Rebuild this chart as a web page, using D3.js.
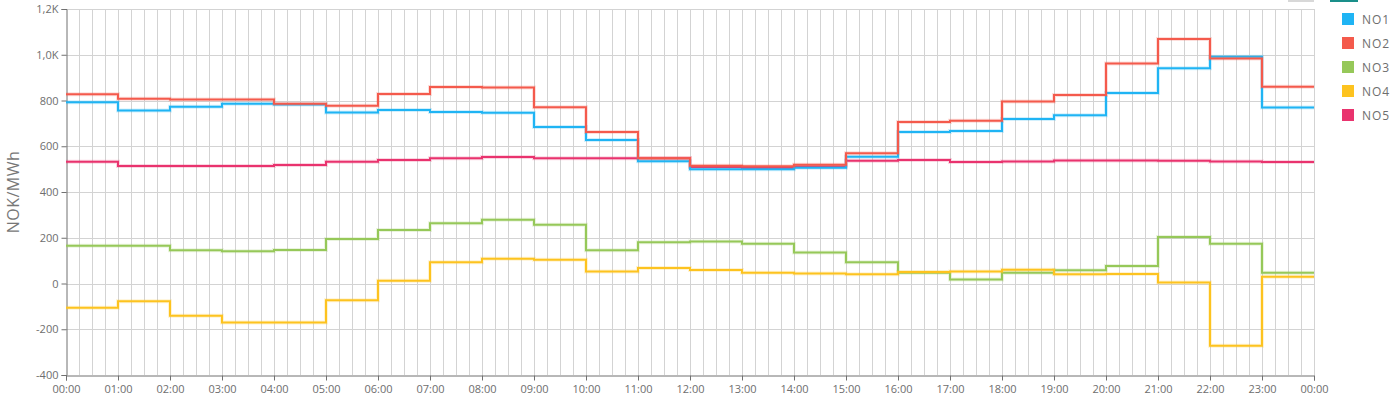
<!DOCTYPE html>
<html><head><meta charset="utf-8">
<script src="https://cdn.jsdelivr.net/npm/d3@7"></script>
<style>
html,body{margin:0;padding:0;background:#fff;}
svg{display:block;font-family:"Open Sans",sans-serif;}
</style></head>
<body><svg id="chart" width="1400" height="400"></svg>
<script>
const hours = d3.range(24);
const tickLabels = ["00:00","01:00","02:00","03:00","04:00","05:00","06:00","07:00","08:00","09:00","10:00","11:00","12:00","13:00","14:00","15:00","16:00","17:00","18:00","19:00","20:00","21:00","22:00","23:00","00:00"];
const yTickValues = [-400,-200,0,200,400,600,800,1000,1200];
const yTickLabels = ["-400","-200","0","200","400","600","800","1,0K","1,2K"];
const seriesNames = ["NO1","NO2","NO3","NO4","NO5"];
const seriesColors = ["#1fb4f4","#f45a4c","#96c859","#fdc31f","#e9336e"];
const NO1 = [792,756,773,786,782,747,758,750,746,684,627,534,499,499,506,554,662,667,719,735,833,941,991,769];
const NO2 = [827,808,804,804,786,777,828,859,857,771,662,547,515,513,519,569,706,712,796,824,962,1069,984,860];
const NO3 = [165,165,145,141,146,195,234,263,279,257,145,180,184,174,135,93,47,17,47,58,77,203,174,47];
const NO4 = [-106,-78,-141,-171,-170,-73,12,93,108,104,53,68,59,47,44,40,50,53,60,40,42,4,-272,30];
const NO5 = [532,514,514,514,518,532,540,548,553,548,547,547,509,505,511,537,540,531,533,538,538,537,533,531];
const allSeries = [NO1,NO2,NO3,NO4,NO5];

const svg = d3.select("#chart");
const L = 66, R = 1314, T = 9, B = 375;
const x = d3.scaleLinear().domain([0,24]).range([L,R]);
const y = d3.scaleLinear().domain([-400,1200]).range([B,T]);

// partial toolbar at top right
svg.append("rect").attr("x",1288).attr("y",0).attr("width",26).attr("height",2).attr("fill","#d8d8d8");
svg.append("rect").attr("x",1330).attr("y",0).attr("width",28).attr("height",2).attr("fill","#1a8f8a");

const grid = svg.append("g");
grid.selectAll("line.v").data(d3.range(1,97)).join("line")
  .attr("x1",d=>Math.round(x(d/4))+0.5).attr("x2",d=>Math.round(x(d/4))+0.5)
  .attr("y1",T).attr("y2",B).attr("stroke","#d3d3d3").attr("stroke-width",1);
grid.selectAll("line.h").data(yTickValues.slice(1)).join("line")
  .attr("x1",L).attr("x2",R)
  .attr("y1",d=>Math.round(y(d))+0.5).attr("y2",d=>Math.round(y(d))+0.5)
  .attr("stroke","#d3d3d3").attr("stroke-width",1);

// y axis
const yAxis = d3.axisLeft(y).tickValues(yTickValues).tickFormat((d,i)=>yTickLabels[i]).tickSize(5).tickPadding(3);
const gy = svg.append("g").attr("transform",`translate(${L+0.5},0)`).call(yAxis);
gy.select(".domain").attr("stroke","#707070");
gy.selectAll(".tick line").attr("stroke","#707070");
gy.selectAll(".tick text").attr("fill","#6e6e6e").attr("font-size",11).attr("font-family","Open Sans, sans-serif");

// x axis
const xAxis = d3.axisBottom(x).tickValues(d3.range(25)).tickFormat((d,i)=>tickLabels[i]).tickSize(5).tickPadding(5);
const gx = svg.append("g").attr("transform",`translate(0,${B+0.5})`).call(xAxis);
gx.select(".domain").attr("stroke","#707070");
gx.selectAll(".tick line").attr("stroke","#707070");
gx.selectAll(".tick text").attr("fill","#6e6e6e").attr("font-size",11).attr("font-family","Open Sans, sans-serif");

// y title
svg.append("text").attr("transform","translate(19,192) rotate(-90)")
  .attr("text-anchor","middle").attr("fill","#777").attr("font-size",16).attr("letter-spacing","0.5px")
  .attr("font-family","Open Sans, sans-serif").text("NOK/MWh");

// lines
const line = d3.line().x(d=>x(d[0])).y(d=>y(d[1])).curve(d3.curveStepAfter);
const order = [2,3,4,0,1];
order.forEach(i=>{
  const vals = allSeries[i];
  const pts = hours.map(h=>[h,vals[h]]).concat([[24,vals[23]]]);
  svg.append("path").datum(pts).attr("d",line).attr("fill","none")
    .attr("stroke",seriesColors[i]).attr("stroke-width",4).attr("stroke-opacity",0.2);
  svg.append("path").datum(pts).attr("d",line).attr("fill","none")
    .attr("stroke",seriesColors[i]).attr("stroke-width",2);
});

// legend
const lg = svg.append("g");
seriesNames.forEach((n,i)=>{
  const yy = 13 + i*24;
  lg.append("rect").attr("x",1342).attr("y",yy).attr("width",12).attr("height",12).attr("fill",seriesColors[i]);
  lg.append("text").attr("x",1362).attr("y",yy+10.5).attr("fill","#6e6e6e")
    .attr("font-size",12).attr("letter-spacing","1px").attr("font-family","Open Sans, sans-serif").text(n);
});
</script></body></html>
